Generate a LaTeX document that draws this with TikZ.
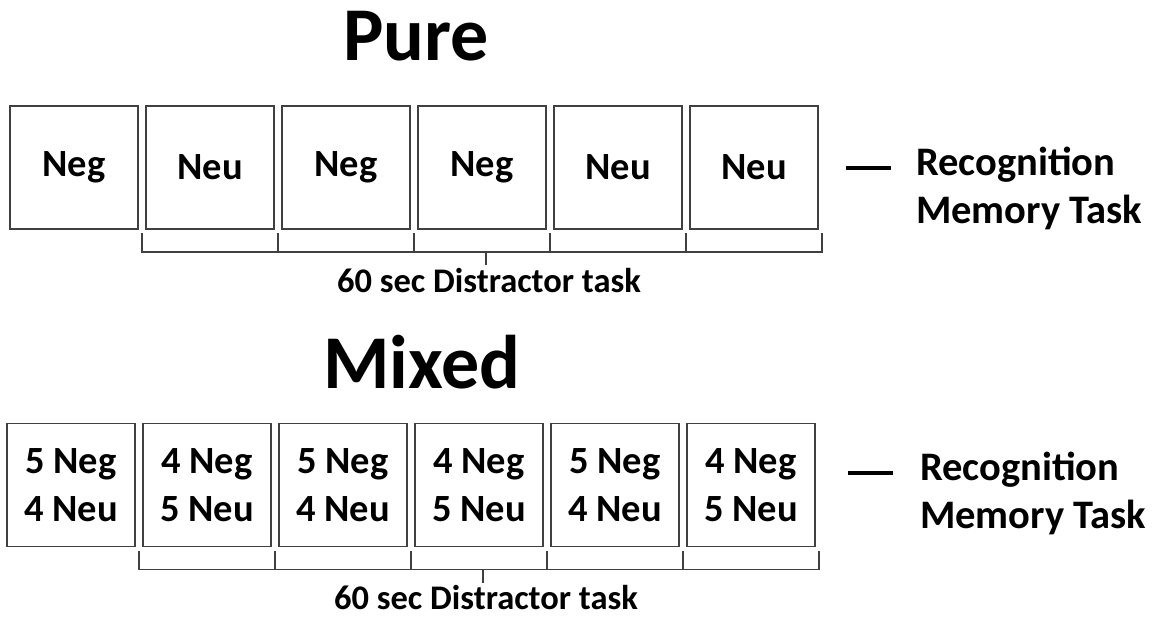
\documentclass[tikz,border=0pt]{standalone}
\usepackage{fontspec}
\setmainfont{Carlito}
\usetikzlibrary{positioning, calc}
\definecolor{boxline}{HTML}{404040}

\begin{document}
\begin{tikzpicture}[x=1pt, y=-1pt,
    block/.style={draw=boxline, line width=1.6pt, minimum width=128pt,
      minimum height=123pt, inner sep=0pt, outer sep=0pt, align=center,
      font=\fontsize{38.5}{47.5}\selectfont\bfseries},
    bracket/.style={boxline, line width=1.6pt},
    dashmark/.style={line width=4pt},
    title/.style={font=\fontsize{76}{80}\selectfont\bfseries, inner sep=0pt},
    tasklabel/.style={font=\fontsize{40.5}{48}\selectfont\bfseries,
      align=left, inner sep=0pt},
    distlabel/.style={font=\fontsize{34.5}{40}\selectfont\bfseries, inner sep=0pt},
    node distance=8pt
  ]
  \useasboundingbox (0,0) rectangle (1158,618);

  % Pure blocks
  \node[title, anchor=base] (puretitle) at (416,60) {Pure};
  \node[block] (p1) at (74,167.5) {Neg};
  \node[block, right=of p1] (p2) {Neu};
  \node[block, right=of p2] (p3) {Neg};
  \node[block, right=of p3] (p4) {Neg};
  \node[block, right=of p4] (p5) {Neu};
  \node[block, right=of p5] (p6) {Neu};
  \draw[bracket] ($(p2.south west)+(-4,4)$) |- ($(p6.south east)+(4,23)$) -- ++(0,-19);
  \draw[bracket] ($(p3.south west)+(-4,4)$) -- ++(0,19);
  \draw[bracket] ($(p4.south west)+(-4,4)$) -- ++(0,19);
  \draw[bracket] ($(p5.south west)+(-4,4)$) -- ++(0,19);
  \draw[bracket] ($(p6.south west)+(-4,4)$) -- ++(0,19);
  \draw[bracket] ($(p4.south)+(4,23)$) -- ++(0,13) coordinate (ptick);
  \node[distlabel, anchor=base] (pdist) at ($(ptick)+(3,27)$) {60 sec Distractor task};
  \draw[dashmark] ($(p6.east)+(28,0)$) -- ++(45,0) coordinate (pdash);
  \node[tasklabel, anchor=north west] (ptask) at ($(pdash)+(25,-21)$)
    {Recognition\\Memory Task};

  % Mixed blocks
  \node[title, anchor=base] (mixedtitle) at (422,388) {Mixed};
  \node[block] (m1) at (71,485) {5 Neg\\4 Neu};
  \node[block, right=of m1] (m2) {4 Neg\\5 Neu};
  \node[block, right=of m2] (m3) {5 Neg\\4 Neu};
  \node[block, right=of m3] (m4) {4 Neg\\5 Neu};
  \node[block, right=of m4] (m5) {5 Neg\\4 Neu};
  \node[block, right=of m5] (m6) {4 Neg\\5 Neu};
  \draw[bracket] ($(m2.south west)+(-4,4)$) |- ($(m6.south east)+(4,23)$) -- ++(0,-19);
  \draw[bracket] ($(m3.south west)+(-4,4)$) -- ++(0,19);
  \draw[bracket] ($(m4.south west)+(-4,4)$) -- ++(0,19);
  \draw[bracket] ($(m5.south west)+(-4,4)$) -- ++(0,19);
  \draw[bracket] ($(m6.south west)+(-4,4)$) -- ++(0,19);
  \draw[bracket] ($(m4.south)+(4,23)$) -- ++(0,13) coordinate (mtick);
  \node[distlabel, anchor=base] (mdist) at ($(mtick)+(3,27)$) {60 sec Distractor task};
  \draw[dashmark] ($(m6.east)+(33,-12)$) -- ++(45,0) coordinate (mdash);
  \node[tasklabel, anchor=north west] (mtask) at ($(mdash)+(27,-21)$)
    {Recognition\\Memory Task};
\end{tikzpicture}
\end{document}
